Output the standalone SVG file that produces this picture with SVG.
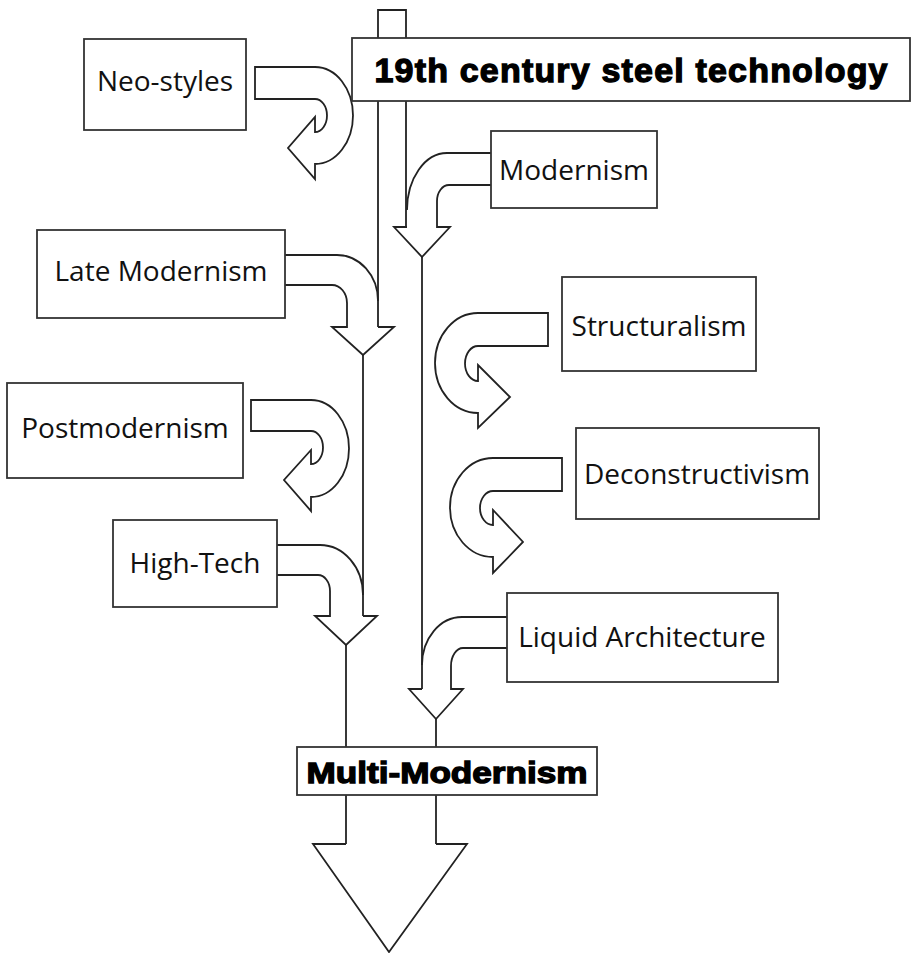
<svg xmlns="http://www.w3.org/2000/svg" width="913" height="953" viewBox="0 0 913 953">
<style>
.ln{fill:none;stroke:#222;stroke-width:1.8;stroke-linejoin:miter}
.ar{fill:#fff;stroke:#222;stroke-width:1.8;stroke-linejoin:miter}
.box{fill:#fff;stroke:#333;stroke-width:1.8}
.lbl{font-family:"Open Sans","Noto Sans",sans-serif;font-size:28px;fill:#111;text-anchor:middle}
.bold{font-family:"Liberation Sans",Arial,sans-serif;font-weight:bold;fill:#000;stroke:#000;stroke-width:1.3;text-anchor:middle}
</style>
<rect width="913" height="953" fill="#fff"/>
<g id="connectors">
  <path class="ln" d="M378,327 V10 H406 V227"/>
  <path class="ln" d="M422,257 V689"/>
  <path class="ln" d="M363,355 V616"/>
  <path class="ln" d="M346,645 V844"/>
  <path class="ln" d="M436,719 V844"/>
  <path class="ln" d="M346,844 H313 L389,952 L467,844 H436"/>
  <path class="ln" d="M491,153 H447 A40 57 0 0 0 407 210"/>
  <path class="ln" d="M491,185 H449 A12 16 0 0 0 437 201 V227 H450 L422,257 L394,227 H407"/>
  <path class="ln" d="M285,255 H337 A41 46 0 0 1 378 301"/>
  <path class="ln" d="M285,285 H332 A15 18 0 0 1 347 303 V327 H332 L363,355 L394,327 H378"/>
  <path class="ln" d="M276,545 H320 A43 50 0 0 1 363 595"/>
  <path class="ln" d="M276,575 H318 A12 16 0 0 1 330 591 V616 H315 L346,645 L377,616 H363"/>
  <path class="ln" d="M507,617 H462 A40 48 0 0 0 422 665"/>
  <path class="ln" d="M507,648 H463 A12 18 0 0 0 451 666 V689 H463 L436,719 L409,689 H422"/>
  <path class="ar" d="M255,67 H315 A38 48.5 0 0 1 315 164 V179 L288,148 L315,117 V132 A12 16.5 0 0 0 315 99 H255 Z"/>
  <path class="ar" d="M251,400 H311 A38 48.5 0 0 1 311 497 V511 L284,480 L311,450 V464 A12 16.5 0 0 0 311 431 H251 Z"/>
  <path class="ar" d="M548,313 H478 A43 50 0 0 0 478 413 V428 L510,397 L478,365 V381 A13 17.5 0 0 1 478 346 H548 Z"/>
  <path class="ar" d="M562,458 H493 A43 49.5 0 0 0 493 557 V573 L523,542 L493,510 V525 A13 17 0 0 1 493 491 H562 Z"/>
</g>
<g id="steel">
  <rect class="box" x="352" y="38" width="558" height="63"/>
  <text class="bold" x="631" y="82" font-size="34" textLength="513" lengthAdjust="spacing">19th century steel technology</text>
</g>
<g id="neo-styles">
  <rect class="box" x="84" y="39" width="162" height="91"/>
  <text class="lbl" x="165" y="91">Neo-styles</text>
</g>
<g id="modernism">
  <rect class="box" x="491" y="131" width="166" height="77"/>
  <text class="lbl" x="574" y="180">Modernism</text>
</g>
<g id="late-modernism">
  <rect class="box" x="37" y="230" width="248" height="88"/>
  <text class="lbl" x="161" y="281">Late Modernism</text>
</g>
<g id="structuralism">
  <rect class="box" x="562" y="277" width="194" height="94"/>
  <text class="lbl" x="659" y="336">Structuralism</text>
</g>
<g id="postmodernism">
  <rect class="box" x="7" y="383" width="236" height="95"/>
  <text class="lbl" x="125" y="438">Postmodernism</text>
</g>
<g id="deconstructivism">
  <rect class="box" x="576" y="428" width="243" height="91"/>
  <text class="lbl" x="697" y="484">Deconstructivism</text>
</g>
<g id="high-tech">
  <rect class="box" x="113" y="520" width="164" height="87"/>
  <text class="lbl" x="195" y="573">High-Tech</text>
</g>
<g id="liquid-architecture">
  <rect class="box" x="507" y="593" width="271" height="89"/>
  <text class="lbl" x="642" y="647">Liquid Architecture</text>
</g>
<g id="multi-modernism">
  <rect class="box" x="297" y="747" width="300" height="48"/>
  <text class="bold" x="447" y="783" font-size="30" textLength="281" lengthAdjust="spacingAndGlyphs">Multi-Modernism</text>
</g>
</svg>
